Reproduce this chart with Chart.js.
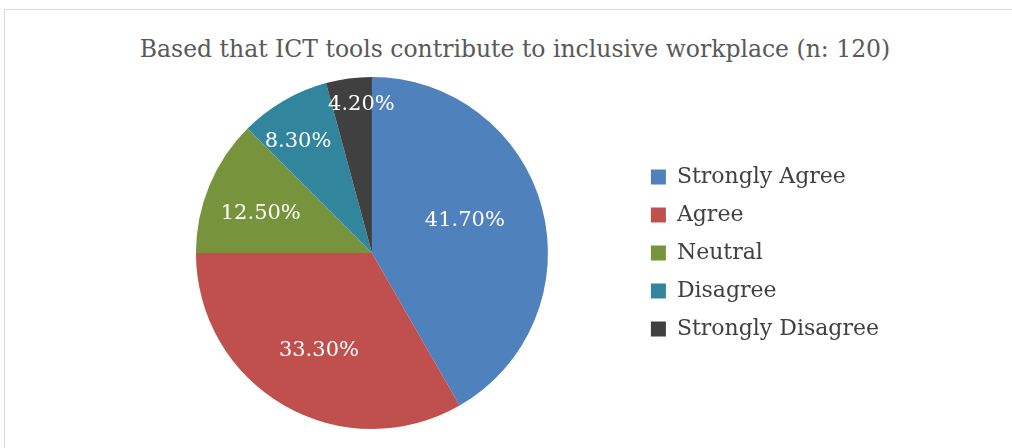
<!DOCTYPE html>
<html>
<head>
<meta charset="utf-8">
<script src="https://cdn.jsdelivr.net/npm/chart.js@4/dist/chart.umd.min.js"></script>
<style>
    html, body { margin: 0; padding: 0; background: #fff; overflow: hidden; }
    .frame {
        position: absolute; left: 4px; top: 9px;
        width: 1100px; height: 500px;
        border: 1px solid #d9d9d9;
    }
    .chart-title {
        position: absolute; left: 0; top: 34px; width: 1030px;
        text-align: center; line-height: 30px;
        font-family: "DejaVu Serif", serif; font-size: 23.5px; color: #595959;
    }
    #pie { position: absolute; left: 0; top: 0; }
</style>
</head>
<body>
<div class="frame"></div>
<div class="chart-title">Based that ICT tools contribute to inclusive workplace (n: 120)</div>
<canvas id="pie" width="1012" height="448"></canvas>
<script>
    // Survey answers and their share of respondents (%)
    const categories = ['Strongly Agree', 'Agree', 'Neutral', 'Disagree', 'Strongly Disagree'];
    const shares = [41.7, 33.3, 12.5, 8.3, 4.2];
    const sliceColors = ['#4f81bd', '#c0504d', '#77933c', '#31859c', '#404040'];
    // label placement: distance from the centre (fraction of radius) and a small turn (degrees)
    const labelRadius = [0.56, 0.63, 0.67, 0.76, 0.845];
    const labelTurn = [-4.5, -1.5, -3, -3.5, 3.5];

    // Draw the percentage text on each slice
    const sliceLabels = {
        id: 'sliceLabels',
        afterDatasetsDraw(chart) {
            const ctx = chart.ctx;
            const meta = chart.getDatasetMeta(0);
            ctx.save();
            ctx.fillStyle = '#ffffff';
            ctx.font = '21px "DejaVu Serif", serif';
            ctx.textAlign = 'center';
            ctx.textBaseline = 'middle';
            meta.data.forEach(function(arc, i) {
                const p = arc.getProps(['x', 'y', 'startAngle', 'endAngle', 'outerRadius'], true);
                const mid = (p.startAngle + p.endAngle) / 2 + labelTurn[i] * Math.PI / 180;
                const r = p.outerRadius * labelRadius[i];
                ctx.fillText(shares[i].toFixed(2) + '%', p.x + Math.cos(mid) * r, p.y + Math.sin(mid) * r);
            });
            ctx.restore();
        }
    };

    const ctxPie = document.getElementById('pie').getContext('2d');
    const pieChart = new Chart(ctxPie, {
        type: 'pie',
        data: {
            labels: categories,
            datasets: [{
                data: shares,
                backgroundColor: sliceColors,
                borderWidth: 0
            }]
        },
        options: {
            responsive: false,
            animation: false,
            layout: {
                padding: { left: 109, right: 123, top: 77, bottom: 19 }
            },
            plugins: {
                title: { display: false },
                tooltip: { enabled: false },
                legend: {
                    position: 'right',
                    align: 'center',
                    labels: {
                        boxWidth: 15,
                        boxHeight: 15,
                        padding: 16,
                        color: '#404040',
                        font: { family: '"DejaVu Serif", serif', size: 22 }
                    }
                }
            }
        },
        plugins: [sliceLabels]
    });
</script>
</body>
</html>
